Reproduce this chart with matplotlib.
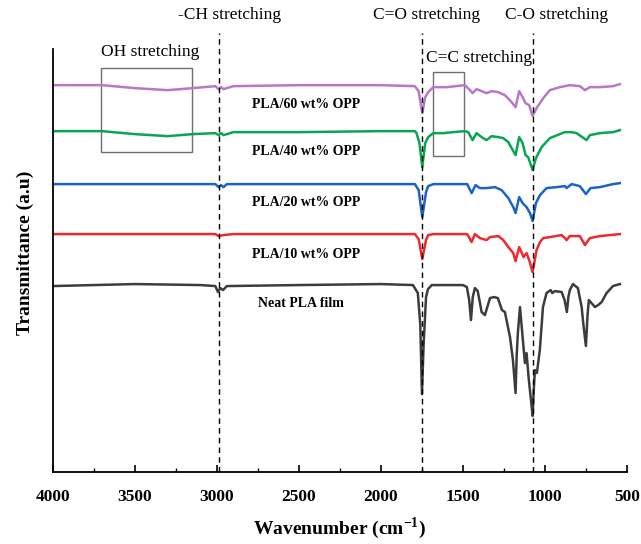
import matplotlib
matplotlib.use("Agg")
import matplotlib.pyplot as plt
from matplotlib.patches import Rectangle
from matplotlib.ticker import MultipleLocator

plt.rcParams['font.family'] = ['Liberation Serif', 'DejaVu Serif']
plt.rcParams['mathtext.fontset'] = 'custom'
plt.rcParams['mathtext.rm'] = 'Liberation Serif:bold'
plt.rcParams['mathtext.bf'] = 'Liberation Serif:bold'

# FTIR spectra: wavenumber (cm-1) and transmittance
# relative to each trace's own baseline (a.u.), plus a vertical offset
neat_wn = [4000, 3500, 3100, 3010, 2994, 2980, 2963, 2940, 2500, 2000, 1805, 1775, 1760, 1750,
           1740, 1725, 1713, 1690, 1500, 1476, 1462, 1451, 1440, 1427, 1410, 1396, 1386, 1366,
           1355, 1335, 1310, 1287, 1262, 1244, 1213, 1195, 1179, 1172, 1165, 1152, 1136, 1122,
           1112, 1098, 1085, 1075, 1068, 1061, 1049, 1031, 1012, 990, 965, 955, 939, 898, 880,
           866, 857, 848, 829, 799, 776, 765, 750, 740, 732, 716, 695, 675, 654, 624, 585, 543]
neat_t = [-1, 1, 0, -1, -7, -3, -5, -1, 0, 1, 0, -8, -40, -109,
          -60, -12, -4, 0, 0, -2, -15, -35, -12, -3, -6, -18, -27, -30,
          -24, -13, -12, -13, -25, -27, -52, -75, -108, -70, -48, -22, -52, -78,
          -68, -95, -115, -131, -105, -85, -88, -65, -22, -8, -5, -8, -6, -7, -15,
          -27, -12, -5, 1, -3, -22, -40, -61, -30, -15, -18, -22, -20, -17, -8, -1, 1]

opp10_wn = [4000, 3500, 3010, 2990, 2960, 2900, 2500, 2000, 1793, 1770, 1748, 1725, 1712, 1680,
            1500, 1474, 1447, 1427, 1396, 1356, 1335, 1284, 1254, 1223, 1193, 1179, 1157, 1130,
            1112, 1096, 1075, 1051, 1030, 1010, 970, 898, 878, 868, 848, 807, 787, 756, 726,
            665, 604, 543]
opp10_t = [0, 0, 0, -2, -1, 0, 0, 0, 0, -5, -25, -6, -1, 0,
           0, 0, -8, 0, -4, -6, -3, -2, -6, -13, -19, -27, -13, -23,
           -19, -26, -38, -16, -8, -4, -3, -1, -4, -6, -2, -2, -2, -11, -4,
           -2, -1, 0]

opp20_wn = [4000, 3500, 3010, 2990, 2975, 2960, 2940, 2500, 2000, 1793, 1770, 1748, 1725, 1712,
            1680, 1500, 1474, 1447, 1423, 1396, 1356, 1305, 1264, 1223, 1193, 1179, 1157, 1136,
            1112, 1091, 1075, 1055, 1030, 990, 929, 878, 868, 837, 787, 750, 722, 665, 584, 543]
opp20_t = [0, 0, 0, -3, -1, -3, 0, 0, 0, 0, -6, -33, -8, -2,
           0, 0, 0, -9, -1, -4, -4, -3, -6, -14, -23, -29, -13, -19,
           -23, -29, -37, -19, -11, -4, -3, -2, -4, 0, -2, -10, -4, -3, 0, 1]

opp40_wn = [4000, 3700, 3500, 3300, 3150, 3010, 2990, 2975, 2960, 2900, 2500, 2000, 1793, 1783,
            1765, 1748, 1730, 1712, 1681, 1620, 1559, 1488, 1468, 1441, 1417, 1386, 1356, 1325,
            1284, 1254, 1223, 1203, 1179, 1157, 1136, 1118, 1102, 1075, 1055, 1020, 970, 909,
            878, 837, 807, 746, 726, 665, 584, 543]
opp40_t = [0, 0, -3, -5, -3, -2, -4, -2, -4, -1, -1, 0, 0, -2,
           -12, -36, -12, -6, -2, -2, -1, 0, -1, -9, -2, -6, -9, -5,
           -6, -7, -11, -17, -24, -6, -12, -24, -26, -39, -27, -16, -7, -3,
           -1, -1, -2, -9, -4, -2, -1, 1]

opp60_wn = [4000, 3700, 3500, 3300, 3150, 3010, 2990, 2975, 2960, 2900, 2500, 2000, 1793, 1770,
            1748, 1730, 1712, 1681, 1600, 1488, 1457, 1441, 1417, 1386, 1356, 1325, 1284, 1244,
            1203, 1179, 1157, 1136, 1118, 1096, 1075, 1051, 1010, 970, 909, 848, 787, 756, 726,
            665, 584, 543]
opp60_t = [0, 0, -3, -5, -3, -1, -4, -2, -4, -1, 0, 0, -1, -6,
           -28, -12, -7, -2, -2, 0, -5, -8, -4, -6, -8, -6, -7, -10,
           -17, -22, -6, -12, -18, -20, -31, -23, -13, -5, -2, 0, -1, -5, -2,
           -2, -1, 1]

offsets = [187, 238, 288, 341, 387]
names = ["Neat PLA film", "PLA/10 wt% OPP", "PLA/20 wt% OPP", "PLA/40 wt% OPP", "PLA/60 wt% OPP"]
colors = ["#3c3c3c", "#ee2a2e", "#1b63c6", "#0aa552", "#b977c7"]
spectra = [(neat_wn, neat_t), (opp10_wn, opp10_t), (opp20_wn, opp20_t),
           (opp40_wn, opp40_t), (opp60_wn, opp60_t)]

# label positions (wavenumber, height)
label_pos = [(2750, 169), (2787, 218), (2787, 270), (2787, 321), (2787, 368)]

# band markers
bands = [2985, 1750, 1075]
band_text = ["-CH stretching", "C=O stretching", "C-O stretching"]
band_text_x = [2921, 1720, 927]

fig = plt.figure(figsize=(6.41, 5.44), dpi=100)
ax = fig.add_axes([0.0827, 0.1324, 0.978 - 0.0827, 0.939 - 0.1324])

for (wn, t), off, c in zip(spectra, offsets, colors):
    ax.plot(wn, [v + off for v in t], color=c, lw=1.8)

for (lx, ly), n in zip(label_pos, names):
    ax.text(lx, ly, n, fontsize=10, fontweight='bold', ha='left', va='center')

for b, s, tx in zip(bands, band_text, band_text_x):
    ax.axvline(b, color='black', lw=1.0, ls=(0, (4, 3)))
    ax.text(tx, 457, s, fontsize=12.5, ha='center', va='center', clip_on=False)

ax.add_patch(Rectangle((3705, 320), 3155 - 3705, 84, fill=False, ec='#6e6e6e', lw=1))
ax.add_patch(Rectangle((1683, 316), 1494 - 1683, 84, fill=False, ec='#6e6e6e', lw=1))
ax.text(3409, 420, "OH stretching", fontsize=12.5, ha='center', va='center')
ax.text(1726, 414, "C=C stretching", fontsize=12.5, ha='left', va='center')

ax.set_xlim(4000, 500)
ax.set_ylim(0, 439)
ax.spines['top'].set_visible(False)
ax.spines['right'].set_visible(False)
ax.spines['left'].set_bounds(0, 423)
ax.spines['left'].set_linewidth(1.3)
ax.spines['bottom'].set_linewidth(1.3)
ax.set_yticks([])
ax.xaxis.set_major_locator(MultipleLocator(500))
ax.xaxis.set_minor_locator(MultipleLocator(250))
ax.tick_params(axis='x', which='major', direction='in', length=5, width=1.2, pad=12)
ax.tick_params(axis='x', which='minor', direction='in', length=3, width=1.0)
for lab in ax.get_xticklabels():
    lab.set_fontweight('bold')
    lab.set_fontsize(12.5)

ax.set_xlabel("Wavenumber (cm$^{-1}$)", fontsize=14, fontweight='bold', labelpad=8)
ax.set_ylabel("Transmittance (a.u)", fontsize=14, fontweight='bold', labelpad=14)

fig.savefig("out.png", dpi=100)
